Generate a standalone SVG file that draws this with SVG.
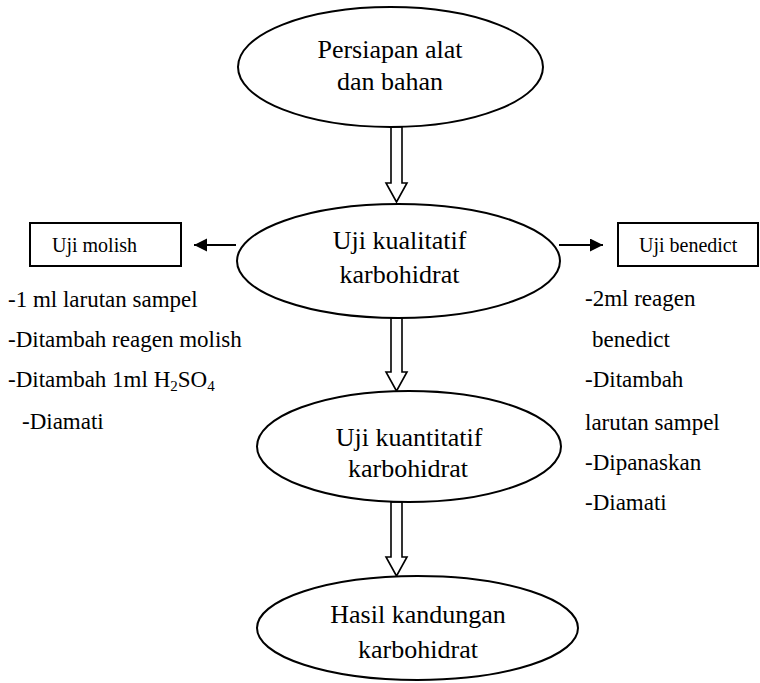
<svg xmlns="http://www.w3.org/2000/svg" width="760" height="683" viewBox="0 0 760 683">
<style>
.shape{fill:#fff;stroke:#000;stroke-width:2}
.t{fill:#000;font-family:"Liberation Serif","Times New Roman",serif}
.big{font-size:26px;text-anchor:middle}
.lst{font-size:23px}
.box{font-size:20px}
.hollow{fill:#fff;stroke:#000;stroke-width:1.6;stroke-linejoin:miter}
.line{stroke:#000;stroke-width:2;fill:none}
</style>
<defs>
<marker id="ah" markerWidth="14" markerHeight="14" refX="13" refY="6.5" orient="auto" markerUnits="userSpaceOnUse">
<path d="M0,0 L13,6.5 L0,13 Z" fill="#000"/>
</marker>
</defs>
<rect width="760" height="683" fill="#fff"/>
<g id="connectors">
<path class="hollow" d="M391,127 L402,127 L402,183 L407,183 L396.5,202 L386,183 L391,183 Z"/>
<path class="hollow" d="M391,318 L402,318 L402,372 L407,372 L396.5,391 L386,372 L391,372 Z"/>
<path class="hollow" d="M391,502 L402,502 L402,557 L407,557 L396.5,576 L386,557 L391,557 Z"/>
<line class="line" x1="236" y1="245" x2="194" y2="245" marker-end="url(#ah)"/>
<line class="line" x1="559" y1="245" x2="603" y2="245" marker-end="url(#ah)"/>
</g>
<g id="node-persiapan">
<ellipse class="shape" cx="390.5" cy="67" rx="152.5" ry="60"/>
<text class="t big" x="390" y="58">Persiapan alat</text>
<text class="t big" x="390" y="90">dan bahan</text>
</g>
<g id="node-kualitatif">
<ellipse class="shape" cx="398.5" cy="261" rx="161.5" ry="57"/>
<text class="t big" x="399.5" y="249">Uji kualitatif</text>
<text class="t big" x="399.5" y="283">karbohidrat</text>
</g>
<g id="node-kuantitatif">
<ellipse class="shape" cx="409" cy="446.5" rx="152" ry="55.5"/>
<text class="t big" x="409" y="446">Uji kuantitatif</text>
<text class="t big" x="408" y="477">karbohidrat</text>
</g>
<g id="node-hasil">
<ellipse class="shape" cx="417.5" cy="628" rx="160.5" ry="52"/>
<text class="t big" x="418" y="623">Hasil kandungan</text>
<text class="t big" x="418" y="658">karbohidrat</text>
</g>
<g id="node-molish">
<rect class="shape" x="30" y="223" width="151" height="43"/>
<text class="t box" x="52" y="252">Uji molish</text>
</g>
<g id="molish-steps">
<text class="t lst" x="8" y="307">-1 ml larutan sampel</text>
<text class="t lst" x="8" y="347">-Ditambah reagen molish</text>
<text class="t lst" x="8" y="387">-Ditambah 1ml H<tspan font-size="15" dy="4">2</tspan><tspan dy="-4">SO</tspan><tspan font-size="15" dy="4">4</tspan></text>
<text class="t lst" x="22" y="429">-Diamati</text>
</g>
<g id="node-benedict">
<rect class="shape" x="618" y="223" width="140" height="43"/>
<text class="t box" x="639" y="252">Uji benedict</text>
</g>
<g id="benedict-steps">
<text class="t lst" x="585" y="306">-2ml reagen</text>
<text class="t lst" x="592" y="347">benedict</text>
<text class="t lst" x="585" y="387">-Ditambah</text>
<text class="t lst" x="585" y="430">larutan sampel</text>
<text class="t lst" x="585" y="470">-Dipanaskan</text>
<text class="t lst" x="585" y="510">-Diamati</text>
</g>
</svg>
